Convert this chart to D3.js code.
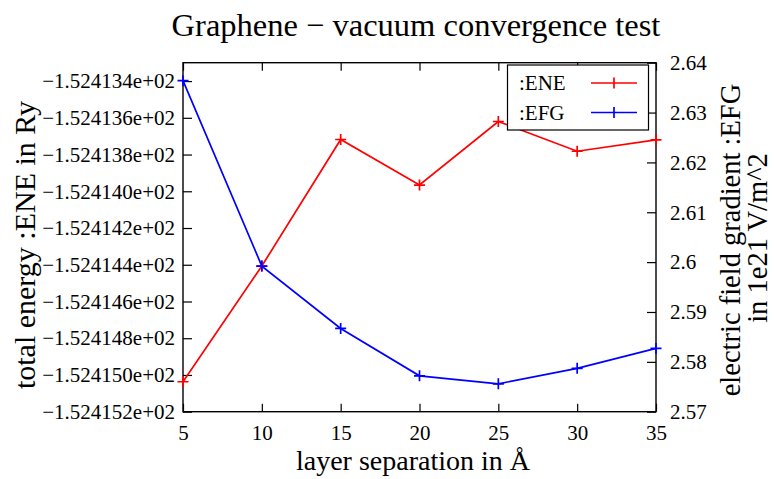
<!DOCTYPE html>
<html>
<head>
<meta charset="utf-8">
<script src="https://cdn.jsdelivr.net/npm/d3@7"></script>
<style>
  body { margin: 0; background: #fff; }
  text { font-family: "Liberation Serif", "DejaVu Serif", serif; fill: #000; }
</style>
</head>
<body>
<div id="chart"></div>
<script>
(function(){

	var width = 775;
	var height = 479;

	// layer separation (Angstrom)
	var separations = [5, 10, 15, 20, 25, 30, 35];
	// total energy in Ry
	var energies = [-152.415037, -152.414407, -152.413718, -152.413966, -152.413620, -152.413782, -152.413720];
	// electric field gradient in 1e21 V/m^2
	var efgs = [2.6364, 2.5992, 2.5867, 2.5772, 2.5756, 2.5787, 2.5827];

	var xTicks = [5, 10, 15, 20, 25, 30, 35];
	var yTicks = [-152.4152, -152.4150, -152.4148, -152.4146, -152.4144, -152.4142, -152.4140, -152.4138, -152.4136, -152.4134];
	var yTickLabels = ["\u22121.524152e+02", "\u22121.524150e+02", "\u22121.524148e+02", "\u22121.524146e+02", "\u22121.524144e+02",
		"\u22121.524142e+02", "\u22121.524140e+02", "\u22121.524138e+02", "\u22121.524136e+02", "\u22121.524134e+02"];
	var y2Ticks = [2.57, 2.58, 2.59, 2.6, 2.61, 2.62, 2.63, 2.64];
	var y2TickLabels = ["2.57", "2.58", "2.59", "2.6", "2.61", "2.62", "2.63", "2.64"];

	var left = 183, right = 656, top = 62.7, bottom = 411.7;

	var svg = d3.select("div#chart")
		.append("svg")
		.attr("width", width)
		.attr("height", height)

	var x = d3.scaleLinear().domain([5, 35]).range([left, right])
	var y = d3.scaleLinear().domain([-152.4152, -152.4133]).range([bottom, top])
	var y2 = d3.scaleLinear().domain([2.57, 2.64]).range([bottom, top])

	// axes, ticks drawn inward like gnuplot
	svg.append("g")
		.attr("class", "axis")
		.attr("transform", "translate(0," + bottom + ")")
		.call(d3.axisBottom(x).tickValues(xTicks).tickSize(-8).tickPadding(13).tickFormat(d3.format("d")))
	svg.append("g")
		.attr("class", "axis")
		.attr("transform", "translate(0," + top + ")")
		.call(d3.axisTop(x).tickValues(xTicks).tickSize(-8).tickFormat(""))
	svg.append("g")
		.attr("class", "axis")
		.attr("transform", "translate(" + left + ",0)")
		.call(d3.axisLeft(y).tickValues(yTicks).tickSize(-9).tickPadding(8)
			.tickFormat(function(d, i){ return yTickLabels[i]; }))
	svg.append("g")
		.attr("class", "axis")
		.attr("transform", "translate(" + right + ",0)")
		.call(d3.axisRight(y2).tickValues(y2Ticks).tickSize(-9).tickPadding(14)
			.tickFormat(function(d, i){ return y2TickLabels[i]; }))

	svg.selectAll(".axis")
		.attr("font-family", "Liberation Serif")
		.attr("font-size", 21)
	svg.selectAll(".domain").remove()
	svg.selectAll(".tick line").attr("stroke", "#000").attr("stroke-width", 1.2)
	svg.selectAll(".tick text")
		.style("font-family", "'Liberation Serif', serif")
		.style("font-size", "21px")
		.attr("fill", "#000")

	svg.append("rect")
		.attr("x", left).attr("y", top)
		.attr("width", right - left).attr("height", bottom - top)
		.attr("fill", "none").attr("stroke", "#000").attr("stroke-width", 1.4)

	var ene = separations.map(function(s, i){ return {x: s, v: energies[i]}; })
	var efg = separations.map(function(s, i){ return {x: s, v: efgs[i]}; })

	function series(data, scale, color){
		var line = d3.line()
			.x(function(d){ return x(d.x); })
			.y(function(d){ return scale(d.v); })
		svg.append("path")
			.datum(data)
			.attr("d", line)
			.attr("fill", "none")
			.attr("stroke", color)
			.attr("stroke-width", 1.7)
		svg.append("g").selectAll("path")
			.data(data)
			.enter().append("path")
			.attr("d", function(d){
				var px = x(d.x), py = scale(d.v);
				return "M" + (px - 5.5) + "," + py + "H" + (px + 5.5) + "M" + px + "," + (py - 5.5) + "V" + (py + 5.5);
			})
			.attr("stroke", color)
			.attr("stroke-width", 1.7)
	}

	series(ene, y, "#ff0000")
	series(efg, y2, "#0000ff")

	// legend
	var legend = svg.append("g")
	legend.append("rect")
		.attr("x", 507.5).attr("y", 65)
		.attr("width", 141).attr("height", 65)
		.attr("fill", "#fff").attr("stroke", "#000").attr("stroke-width", 1.2)
	var entries = [{name: ":ENE", color: "#ff0000"}, {name: ":EFG", color: "#0000ff"}]
	entries.forEach(function(e, i){
		var ly = 83 + i * 29.5;
		legend.append("text")
			.attr("x", 519).attr("y", ly + 7)
			.style("font-size", "21px")
			.text(e.name)
		legend.append("line")
			.attr("x1", 591).attr("x2", 637).attr("y1", ly).attr("y2", ly)
			.attr("stroke", e.color).attr("stroke-width", 1.7)
		legend.append("path")
			.attr("d", "M" + 614 + "," + (ly - 5.5) + "V" + (ly + 5.5))
			.attr("stroke", e.color).attr("stroke-width", 1.7)
	})

	// titles
	svg.append("text")
		.attr("x", 416).attr("y", 36)
		.attr("text-anchor", "middle")
		.style("font-size", "32.5px")
		.text("Graphene \u2212 vacuum convergence test")

	svg.append("text")
		.attr("x", 413).attr("y", 470)
		.attr("text-anchor", "middle")
		.style("font-size", "28px")
		.text("layer separation in \u00c5")

	svg.append("text")
		.attr("transform", "translate(35,245) rotate(-90)")
		.attr("text-anchor", "middle")
		.style("font-size", "30px")
		.text("total energy :ENE in Ry")

	svg.append("text")
		.attr("transform", "translate(740,240) rotate(-90)")
		.attr("text-anchor", "middle")
		.style("font-size", "28.5px")
		.text("electric field gradient :EFG")
	svg.append("text")
		.attr("transform", "translate(767,238) rotate(-90)")
		.attr("text-anchor", "middle")
		.style("font-size", "28.5px")
		.text("in 1e21 V/m^2")

})();
</script>
</body>
</html>
